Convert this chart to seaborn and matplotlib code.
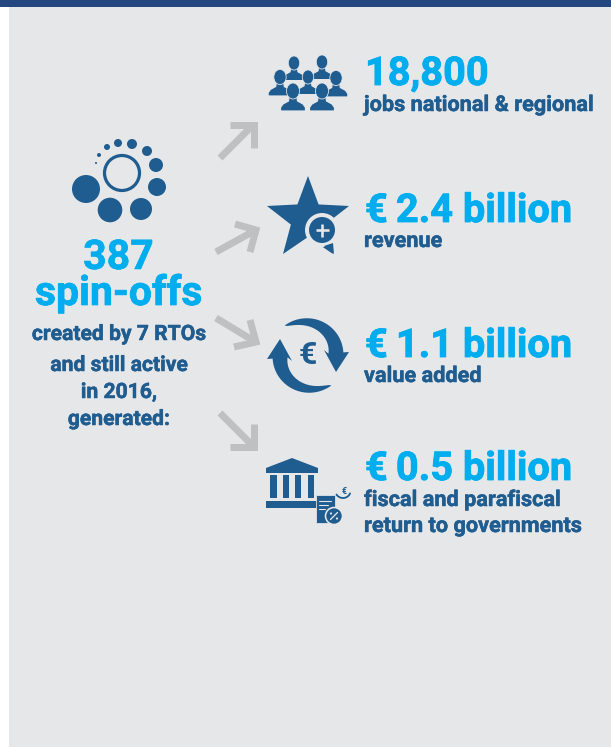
import numpy as np
import pandas as pd
import seaborn as sns
import matplotlib
matplotlib.use("Agg")
import matplotlib.pyplot as plt
import matplotlib.patheffects as pe
from matplotlib.patches import Circle, Ellipse, Polygon, Rectangle

# --- content ---
headline_value = "387"
headline_label = "spin-offs"
headline_note = ["created by 7 RTOs", "and still active", "in 2016,", "generated:"]
metric_values = ["18,800", "€\u20092.4 billion", "€\u20091.1 billion", "€\u20090.5 billion"]
metric_labels = [["jobs national & regional"], ["revenue"], ["value added"],
                 ["fiscal and parafiscal", "return to governments"]]

# logo dots (pixel position, pixel radius)
dot_x = [86, 110, 141, 157, 156, 147, 132, 118, 107, 99, 96]
dot_y = [189, 210, 209, 187, 165, 151, 144, 143, 147, 155, 163]
dot_r = [14, 12.3, 11, 9, 7, 5, 5, 4, 3, 2, 1]

BG = "#e6e7e9"
BAR = "#25477f"
DARK = "#1f5c8f"
CYAN = "#00aeef"
GREY = "#bfc0c2"

sns.set_theme(style="white")
plt.rcParams["font.family"] = ["Roboto", "DejaVu Sans"]

W, H = 611, 747
fig = plt.figure(figsize=(W / 100, H / 100), dpi=100)
ax = fig.add_axes([0, 0, 1, 1])
PX = 0.72

ax.add_patch(Rectangle((9, 0), W - 9, H, fc=BG, ec="none", zorder=0))
ax.add_patch(Rectangle((0, 0), W, 7, fc=BAR, ec="none", zorder=1))

# logo
ax.add_patch(Circle((122, 173), 17.5, fc="none", ec=DARK, lw=3.2 * PX, zorder=2))
logo = pd.DataFrame({"x": dot_x, "y": dot_y, "s": [(2 * r * PX) ** 2 for r in dot_r]})
sns.scatterplot(data=logo, x="x", y="y", s=logo["s"].values, color=DARK,
                linewidth=0, legend=False, ax=ax, zorder=2)
ax.set_xlim(0, W)
ax.set_ylim(H, 0)
ax.axis("off")

# arrows
arrows = [
    ([(220, 158), (253, 125)], [(230, 124.5), (253.5, 124.5), (253.5, 148)]),
    ([(216, 252), (254, 231)], [(235, 224), (256, 230), (250, 252)]),
    ([(216, 318), (254, 341)], [(250, 320), (256, 342), (234, 347)]),
    ([(220, 413), (252, 445)], [(253.5, 424), (253.5, 446.5), (230, 446.5)]),
]
for shaft, head in arrows:
    ax.plot(*zip(*shaft), color=GREY, lw=7 * PX, solid_capstyle="butt", zorder=2)
    ax.plot(*zip(*head), color=GREY, lw=7 * PX, solid_capstyle="butt",
            solid_joinstyle="miter", zorder=2)


# people
def person(cx, cy, scale=1.0, z=3):
    w = 12.5 * scale
    base = cy + 20 * scale
    pts = [(cx - w, base), (cx - w, base - 3.5 * scale), (cx - w + 2.5 * scale, base - 7 * scale),
           (cx - 4.5 * scale, base - 10 * scale), (cx - 3.5 * scale, cy + 2 * scale),
           (cx + 3.5 * scale, cy + 2 * scale), (cx + 4.5 * scale, base - 10 * scale),
           (cx + w - 2.5 * scale, base - 7 * scale), (cx + w, base - 3.5 * scale), (cx + w, base)]
    ax.add_patch(Polygon(pts, closed=True, fc=DARK, ec=BG, lw=1.2 * PX, zorder=z))
    ax.add_patch(Ellipse((cx, cy), 13 * scale, 16 * scale, fc=DARK, ec=BG, lw=0.8 * PX, zorder=z))


person(294, 63, 0.88, 3)
person(322, 62, 0.88, 3)
person(280, 77, 0.95, 4)
person(336, 78, 0.95, 4)
person(308, 77, 0.88, 5)
person(293, 91, 1.0, 6)
person(322, 91, 1.0, 6)

# star
tips = [(308, 176), (349, 206), (333, 254), (283, 254), (267, 206)]
cx, cy = 308, 219
star = []
for i, t in enumerate(tips):
    star.append(t)
    a = np.deg2rad(-90 + 36 + 72 * i)
    star.append((cx + 18 * np.cos(a), cy + 18 * np.sin(a)))
ax.add_patch(Polygon(star, closed=True, fc=DARK, ec="none", zorder=3))
ax.add_patch(Circle((322, 230), 17, fc=BG, ec="none", zorder=4))
ax.add_patch(Polygon([(324, 246), (333, 243), (334, 254)], closed=True, fc=DARK, ec="none", zorder=5))
ax.add_patch(Circle((322, 230), 13, fc=DARK, ec="none", zorder=6))
ax.plot([315.5, 328.5], [230, 230], color=BG, lw=2.6 * PX, solid_capstyle="butt", zorder=7)
ax.plot([322, 322], [223.5, 236.5], color=BG, lw=2.6 * PX, solid_capstyle="butt", zorder=7)

# euro cycle
c = np.array([308.0, 355.5])
t = np.linspace(np.deg2rad(-128), np.deg2rad(-5), 50)
u = np.linspace(0, 1, t.size)
r_out = 38.0 - 2.5 * u
r_in = 38.0 - 17.5 * u ** 0.6
outer = np.c_[c[0] + r_out * np.cos(t), c[1] + r_out * np.sin(t)]
inner = np.c_[c[0] + r_in * np.cos(t), c[1] + r_in * np.sin(t)][::-1]
arc = np.vstack([outer, [[349, 352], [336, 372], [324, 350]], inner])
ax.add_patch(Polygon(arc, closed=True, fc=DARK, ec="none", zorder=3))
ax.add_patch(Polygon(2 * c - arc, closed=True, fc=DARK, ec="none", zorder=3))
ax.text(307.5, 355, "€", color=DARK, fontsize=23, fontweight="bold", ha="center", va="center", zorder=4)

# bank
ax.add_patch(Polygon([(292, 458), (318, 468), (318, 473), (266, 473), (266, 468)],
                     closed=True, fc=DARK, ec="none", zorder=3))
for x0, x1 in [(270, 277), (283, 289), (295, 301), (308, 314)]:
    ax.add_patch(Rectangle((x0, 475), x1 - x0, 23, fc=DARK, ec="none", zorder=3))
ax.add_patch(Rectangle((266, 501), 51, 6.5, fc=DARK, ec="none", zorder=3))
ax.add_patch(Rectangle((316, 495), 19, 28, fc=DARK, ec=BG, lw=0.8 * PX, zorder=4))
for y0, x1 in [(501, 331), (505, 328), (509, 325)]:
    ax.plot([319, x1], [y0, y0], color=BG, lw=1.1 * PX, zorder=5)
ax.add_patch(Circle((334, 516), 8.5, fc=DARK, ec=BG, lw=1.6 * PX, zorder=6))
ax.plot([330.5, 337.5], [519.5, 512.5], color=BG, lw=1.3 * PX, zorder=7)
ax.add_patch(Circle((331, 513.5), 1.1, fc=BG, ec="none", zorder=7))
ax.add_patch(Circle((337, 518.5), 1.1, fc=BG, ec="none", zorder=7))
ax.text(344, 491, "€", color=DARK, fontsize=6.5, fontweight="bold", ha="center", va="center", zorder=4)
th = np.linspace(np.deg2rad(20), np.deg2rad(150), 20)
ax.plot(343 + 7.5 * np.cos(th), 491 + 7 * np.sin(th), color=DARK, lw=1.8 * PX, zorder=4)


def label(x, y, s, color, size, ha, stroke):
    txt = ax.text(x, y, s, color=color, fontsize=size, fontweight="bold", ha=ha, va="baseline", zorder=5)
    txt.set_path_effects([pe.withStroke(linewidth=stroke, foreground=color)])


# left column text
label(118.5, 269, headline_value, CYAN, 29.5, "center", 0.4)
label(119, 305, headline_label, CYAN, 29.5, "center", 0.5)
for s, y in zip(headline_note, [340, 371, 398, 425]):
    label(119, y, s, DARK, 15.2, "center", 0.35)

# right column text
val_y = [85, 222, 357, 480]
lab_y = [[111], [247], [382], [506, 532]]
for v, y, labs, ly in zip(metric_values, val_y, metric_labels, lab_y):
    label(365, y, v, CYAN, 28.6, "left", 0.6)
    for s, yy in zip(labs, ly):
        label(364, yy, s, DARK, 15.6, "left", 0.35)

fig.savefig("out.png", dpi=100)
